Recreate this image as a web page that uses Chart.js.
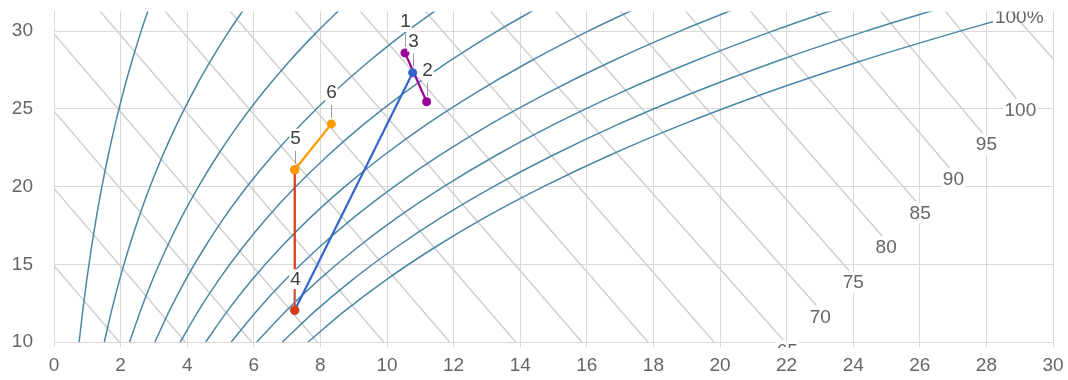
<!DOCTYPE html>
<html>
<head>
<meta charset="utf-8">
<script src="https://cdn.jsdelivr.net/npm/chart.js@4.4.1/dist/chart.umd.min.js"></script>
<style>
  html, body { margin: 0; padding: 0; background: #ffffff; }
  #wrap { width: 1068px; height: 380px; }
</style>
</head>
<body>
<div id="wrap"><canvas id="chart" width="1068" height="380"></canvas></div>
<script>
// ---- Psychrometric chart data: humidity ratio (g/kg) on x, dry-bulb temperature (°C) on y ----

// Axis ticks
const xTickStep = 2;
const yTickValues = [10, 15, 20, 25, 30];

// Relative-humidity curves, sampled at these temperatures
const rhTemps = [10, 12, 14, 16, 18, 20, 22, 24, 26, 28, 30, 31.5];
const satTemps = [10, 12, 14, 16, 18, 20, 22, 24, 26, 28, 30, 30.6];
const rh10 = [0.755, 0.862, 0.983, 1.119, 1.270, 1.439, 1.628, 1.838, 2.071, 2.330, 2.617, 2.853];
const rh20 = [1.511, 1.727, 1.969, 2.241, 2.544, 2.885, 3.264, 3.687, 4.157, 4.678, 5.257, 5.732];
const rh30 = [2.270, 2.595, 2.959, 3.368, 3.824, 4.338, 4.909, 5.546, 6.255, 7.044, 7.919, 8.638];
const rh40 = [3.030, 3.464, 3.951, 4.499, 5.110, 5.797, 6.563, 7.417, 8.369, 9.427, 10.604, 11.571];
const rh50 = [3.792, 4.336, 4.947, 5.634, 6.400, 7.263, 8.226, 9.299, 10.496, 11.829, 13.311, 14.531];
const rh60 = [4.556, 5.211, 5.946, 6.772, 7.696, 8.736, 9.897, 11.192, 12.639, 14.249, 16.042, 17.518];
const rh70 = [5.322, 6.088, 6.948, 7.916, 8.998, 10.216, 11.577, 13.097, 14.795, 16.688, 18.797, 20.535];
const rh80 = [6.090, 6.967, 7.953, 9.063, 10.304, 11.703, 13.267, 15.014, 16.966, 19.145, 21.575, 23.579];
const rh90 = [6.859, 7.849, 8.961, 10.215, 11.616, 13.197, 14.965, 16.941, 19.152, 21.621, 24.378, 26.653];
const rh100 = [7.631, 8.734, 9.973, 11.370, 12.933, 14.698, 16.672, 18.880, 21.353, 24.117, 27.205, 28.197];
const saturationLabel = '100%';

// Constant-enthalpy lines (kJ/kg): start and end points
const enthalpyValues = [15, 20, 25, 30, 35, 40, 45, 50, 55, 60, 65, 70, 75, 80, 85, 90, 95, 100, 105];
const enthalpyStartW = [0, 0, 0, 0, 1.294, 3.247, 5.200, 7.154, 9.107, 11.061, 13.014, 14.967, 16.921, 18.874, 20.828, 22.781, 24.735, 26.688, 28.64];
const enthalpyStartT = [14.91, 19.88, 24.85, 29.82, 31.5, 31.5, 31.5, 31.5, 31.5, 31.5, 31.5, 31.5, 31.5, 31.5, 31.5, 31.5, 31.5, 31.5, 31.5];
const enthalpyEndW = [1.961, 3.945, 5.930, 7.914, 9.899, 11.883, 13.867, 15.852, 17.836, 19.821, 21.90, 22.89, 23.88, 24.87, 25.89, 26.89, 27.88, 28.90, 30.5];
const enthalpyEndT = [10, 10, 10, 10, 10, 10, 10, 10, 10, 10, 10.13, 12.36, 14.59, 16.82, 19.04, 21.21, 23.44, 25.67, 27.02];

// Air-handling process states
const stateLabels = ['1', '2', '3', '4', '5', '6'];
const stateW = [10.54, 11.19, 10.77, 7.23, 7.23, 8.33];
const stateT = [28.6, 25.46, 27.33, 12.04, 21.08, 24.03];

// Process segments as pairs of state indices: mixing 1-2, cooling 3-4, reheat 4-5, room 5-6
const mixingPath = [0, 1];
const coolingPath = [2, 3];
const reheatPath = [3, 4];
const roomPath = [4, 5];

// ---- styling ----
const FONT = "'Liberation Sans', Arial, sans-serif";
const GRID = '#d9d9d9';
const TEXT = '#666666';
const RH_COLOR = '#4a87a3';
const H_COLOR = '#cfcfcf';

Chart.defaults.font.family = FONT;

const pt = (w, t) => ({ x: w, y: t });

const rhSeries = [rh10, rh20, rh30, rh40, rh50, rh60, rh70, rh80, rh90, rh100];
const rhDatasets = rhSeries.map((ws, k) => {
  const temps = k === rhSeries.length - 1 ? satTemps : rhTemps;
  return {
    label: (k + 1) * 10 + '%',
    data: ws.map((w, j) => pt(w, temps[j])),
    showLine: true,
    borderColor: RH_COLOR,
    borderWidth: 1.5,
    pointRadius: 0,
    cubicInterpolationMode: 'monotone',
    order: 20
  };
});

const enthalpyDatasets = enthalpyValues.map((h, i) => ({
  label: 'h' + h,
  data: [pt(enthalpyStartW[i], enthalpyStartT[i]), pt(enthalpyEndW[i], enthalpyEndT[i])],
  showLine: true,
  borderColor: H_COLOR,
  borderWidth: 1.5,
  pointRadius: 0,
  order: 30
}));

function processDataset(path, color, order) {
  return {
    label: 'process',
    data: path.map(i => pt(stateW[i], stateT[i])),
    showLine: true,
    borderColor: color,
    backgroundColor: color,
    borderWidth: 2.2,
    pointRadius: 4.5,
    pointBorderWidth: 0,
    pointBackgroundColor: color,
    order: order
  };
}

const processDatasets = [
  processDataset(mixingPath, '#990099', 4),
  processDataset(coolingPath, '#3366cc', 3),
  processDataset(reheatPath, '#dc3912', 2),
  processDataset(roomPath, '#ff9900', 1)
];

// Centered text on a white box
function boxedText(ctx, text, cx, cy, color) {
  const w = ctx.measureText(text).width;
  ctx.fillStyle = '#ffffff';
  ctx.fillRect(cx - w / 2 - 1, cy - 10, w + 2, 20);
  ctx.fillStyle = color;
  ctx.fillText(text, cx, cy);
}

const labelPlugin = {
  id: 'psychroLabels',
  afterDatasetsDraw(chart) {
    const { ctx, chartArea: a, scales: { x, y } } = chart;
    ctx.save();
    ctx.beginPath();
    ctx.rect(a.left, a.top, a.right - a.left, a.bottom - a.top + 6);
    ctx.clip();
    ctx.font = '19px ' + FONT;
    ctx.textAlign = 'center';
    ctx.textBaseline = 'middle';
    // enthalpy values at the ends of their lines
    enthalpyValues.forEach((h, i) => {
      if (enthalpyEndT[i] <= 10) return;
      const px = x.getPixelForValue(enthalpyEndW[i]) + 4;
      const py = y.getPixelForValue(enthalpyEndT[i]) + 12;
      boxedText(ctx, String(h), px, py, TEXT);
    });
    // saturation curve label
    const last = rh100.length - 1;
    const sx = x.getPixelForValue(rh100[last]);
    const sy = y.getPixelForValue(satTemps[last]);
    ctx.textAlign = 'left';
    ctx.textBaseline = 'alphabetic';
    ctx.fillStyle = TEXT;
    ctx.fillText(saturationLabel, sx + 2, sy + 1);
    ctx.restore();

    // state numbers with stems
    ctx.save();
    ctx.font = '19px ' + FONT;
    ctx.textAlign = 'center';
    ctx.textBaseline = 'middle';
    stateLabels.forEach((lab, i) => {
      const px = Math.round(x.getPixelForValue(stateW[i])) + 0.5;
      const py = y.getPixelForValue(stateT[i]);
      ctx.strokeStyle = '#999999';
      ctx.lineWidth = 1;
      ctx.beginPath();
      ctx.moveTo(px, py - 6);
      ctx.lineTo(px, py - 19);
      ctx.stroke();
      boxedText(ctx, lab, px, py - 31, '#404040');
    });
    ctx.restore();
  }
};

new Chart(document.getElementById('chart'), {
  type: 'scatter',
  data: { datasets: [...processDatasets, ...rhDatasets, ...enthalpyDatasets] },
  options: {
    responsive: false,
    animation: false,
    events: [],
    layout: { padding: { top: 8, right: 15, left: 0, bottom: 0 } },
    plugins: { legend: { display: false }, tooltip: { enabled: false } },
    scales: {
      x: {
        type: 'linear',
        min: 0,
        max: 30,
        ticks: { stepSize: xTickStep, color: TEXT, font: { size: 19 }, padding: 7, maxRotation: 0 },
        grid: { color: GRID, lineWidth: 1, tickLength: 5 },
        border: { color: GRID },
        afterFit(s) { s.height = 38; s.paddingLeft = 0; s.paddingRight = 0; }
      },
      y: {
        type: 'linear',
        min: 10,
        max: 31.27,
        afterBuildTicks(s) { s.ticks = yTickValues.map(v => ({ value: v })); },
        ticks: { color: TEXT, font: { size: 19 }, padding: 0 },
        grid: { color: GRID, lineWidth: 1, drawTicks: true, tickLength: 21, tickColor: 'rgba(0,0,0,0)' },
        border: { color: GRID },
        afterFit(s) { s.width = 54; }
      }
    }
  },
  plugins: [labelPlugin]
});
</script>
</body>
</html>
